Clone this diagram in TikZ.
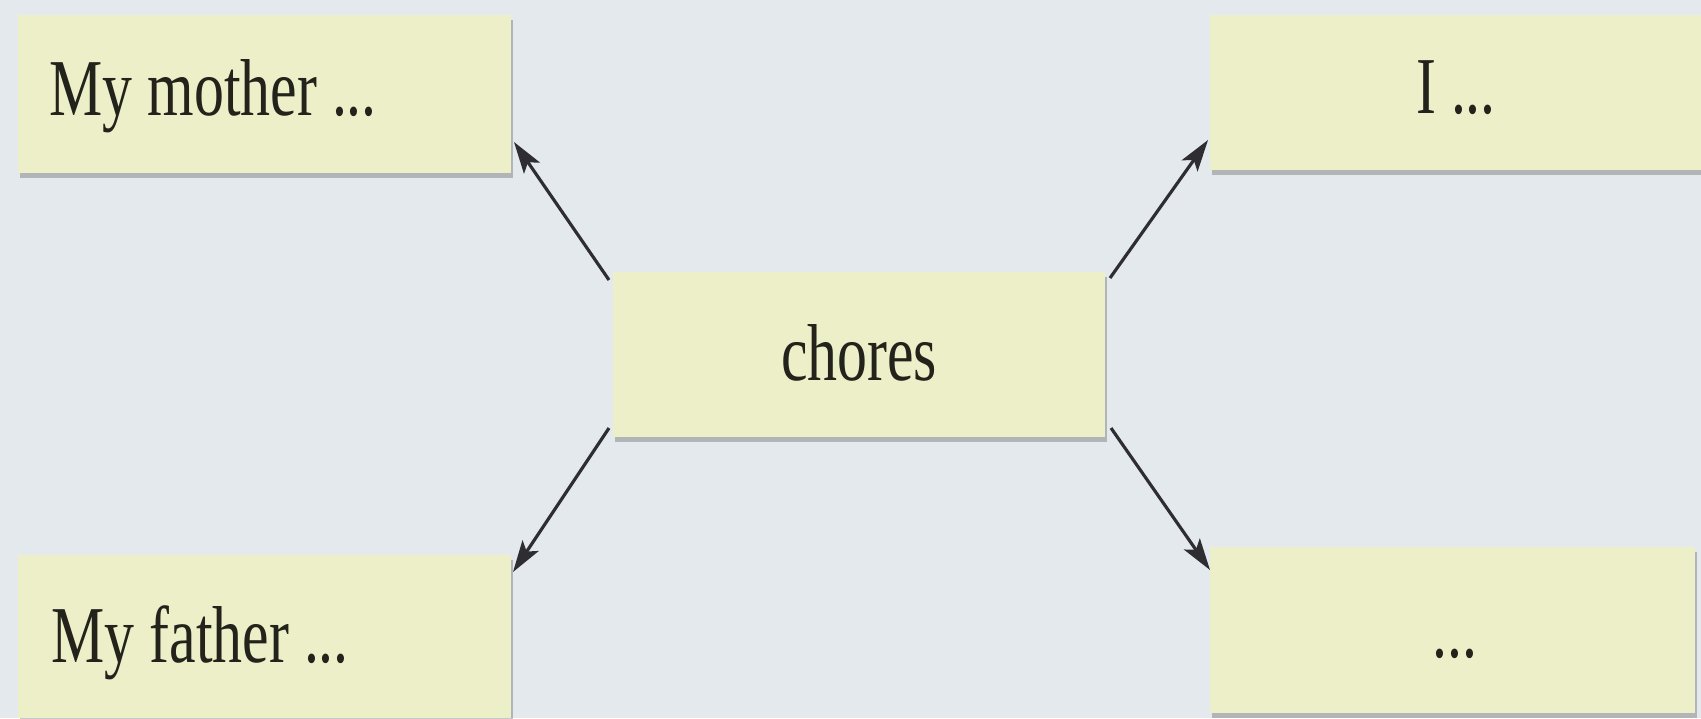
\documentclass[tikz,border=0pt]{standalone}
\usepackage{fontspec}
\setmainfont{Liberation Serif}
\usetikzlibrary{arrows.meta,calc,shadows,fit}
\definecolor{bgc}{RGB}{228,233,237}
\definecolor{boxc}{RGB}{236,239,199}
\definecolor{inkc}{RGB}{35,35,28}
\definecolor{arrc}{RGB}{45,45,50}
\newcommand\stretchtxt[1]{\scalebox{1}[1.35]{#1}}
\begin{document}
\begin{tikzpicture}[x=0.01cm,y=-0.01cm,
  boxstyle/.style={fill=boxc, draw=none, inner sep=0pt, outer sep=0pt,
    drop shadow={shadow xshift=0.6pt, shadow yshift=-1.4pt, opacity=0.22, fill=black}},
  lbl/.style={inner sep=0pt, text=inkc, font=\fontsize{17}{20}\selectfont},
  arr/.style={draw=arrc, line width=0.9pt, -{Stealth[length=9pt,width=5.5pt,inset=2pt]}}]
\fill[bgc] (0,0) rectangle (1701,718);
\useasboundingbox (0,0) rectangle (1701,718);
% boxes
\node[boxstyle, fit={(18,15)(511,173)}] (mother) {};
\node[boxstyle, fit={(1210,15)(1701,170)}] (me) {};
\node[boxstyle, fit={(613,272)(1105,437)}] (chores) {};
\node[boxstyle, fit={(18,555)(511,718)}] (father) {};
\node[boxstyle, fit={(1210,547)(1695,713)}] (dots) {};
% texts
\node[lbl, anchor=base west] (tmother) at (49,115) {\stretchtxt{My mother ...}};
\node[lbl, anchor=base] (tme) at (1456,113) {\stretchtxt{I ...}};
\node[lbl, anchor=base] (tchores) at (859,380) {\stretchtxt{chores}};
\node[lbl, anchor=base west] (tfather) at (51,662) {\stretchtxt{My father ...}};
\node[lbl, anchor=base] (tdots) at (1455,657) {\stretchtxt{...}};
% arrows
\draw[arr] ($(chores.north west)+(-4,8)$) -- ($(mother.south east)+(3,-31)$);
\draw[arr] ($(chores.north east)+(5,6)$) -- ($(me.south west)+(-2,-30)$);
\draw[arr] ($(chores.south west)+(-4,-9)$) -- ($(father.north east)+(2,17)$);
\draw[arr] ($(chores.south east)+(6,-9)$) -- ($(dots.north west)+(0,23)$);
\end{tikzpicture}
\end{document}
